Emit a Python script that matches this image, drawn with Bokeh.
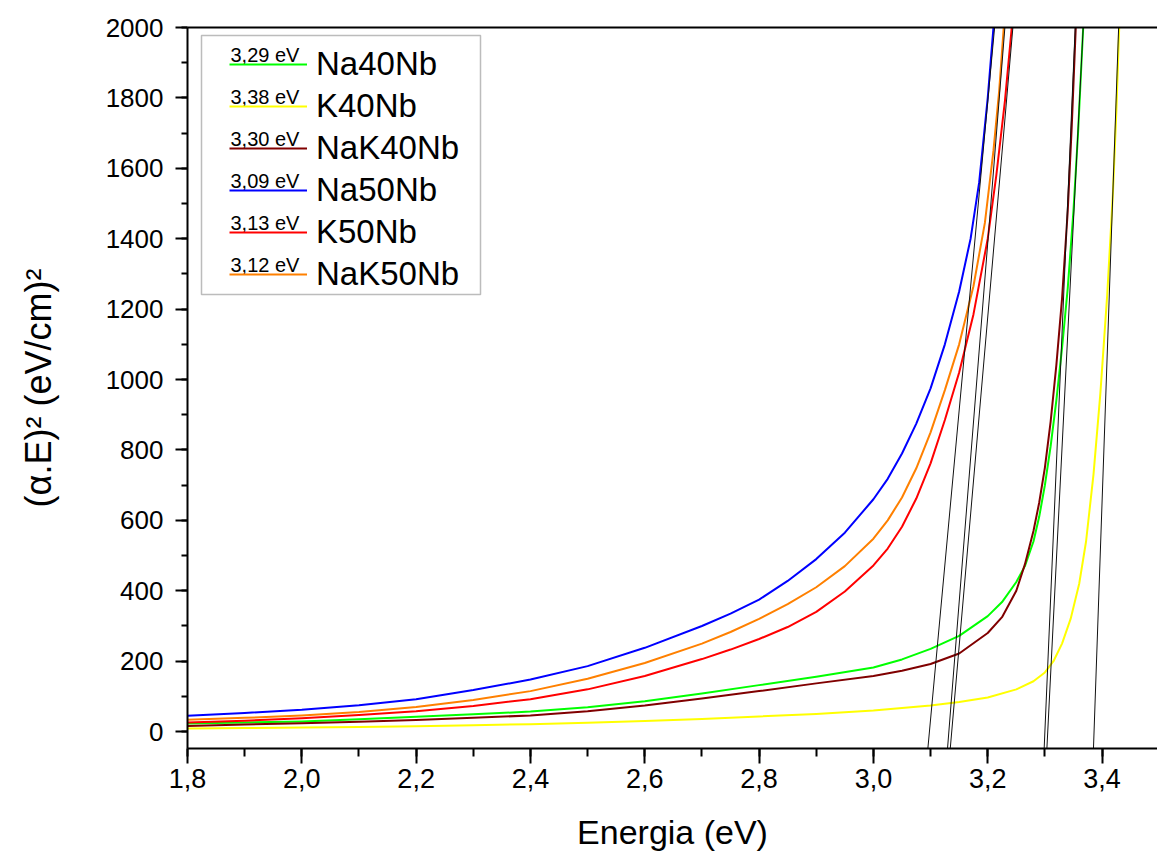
import numpy as np
from bokeh.plotting import figure
from bokeh.models import (Range1d, LinearAxis, FixedTicker, SingleIntervalTicker,
                          CustomJSTickFormatter, Legend, LegendItem, Label, BoxAnnotation)
from bokeh.embed import file_html
from bokeh.resources import INLINE

# ---------------- data ----------------
samples = ["Na40Nb", "K40Nb", "NaK40Nb", "Na50Nb", "K50Nb", "NaK50Nb"]
gap_labels = ["3,29 eV", "3,38 eV", "3,30 eV", "3,09 eV", "3,13 eV", "3,12 eV"]
colors = ["#00FF00", "#FFFF00", "#800000", "#0000FF", "#FF0000", "#FF8000"]

na40_E = [1.80, 1.90, 2.00, 2.10, 2.20, 2.30, 2.40, 2.50, 2.60, 2.70, 2.80, 2.90, 3.00,
          3.05, 3.10, 3.15, 3.20, 3.225, 3.25, 3.265, 3.28, 3.29, 3.30, 3.31, 3.32,
          3.33, 3.34, 3.35, 3.358, 3.367]
na40_y = [23, 26, 29, 35, 42, 49, 57, 69, 86, 108, 132, 156, 182,
          205, 235, 272, 328, 368, 425, 470, 540, 610, 700, 810, 940,
          1090, 1260, 1480, 1700, 2000]

k40_E = [1.80, 1.90, 2.00, 2.10, 2.20, 2.30, 2.40, 2.50, 2.60, 2.70, 2.80, 2.90, 3.00,
         3.10, 3.15, 3.20, 3.25, 3.28, 3.30, 3.315, 3.33, 3.345, 3.36, 3.372, 3.385,
         3.397, 3.409, 3.419, 3.425, 3.43]
k40_y = [9, 10, 12, 13, 15, 18, 21, 25, 30, 36, 43, 50, 60,
         74, 84, 97, 120, 143, 168, 200, 250, 320, 420, 540, 730,
         960, 1240, 1530, 1760, 2000]

nak40_E = [1.80, 1.90, 2.00, 2.10, 2.20, 2.30, 2.40, 2.50, 2.60, 2.70, 2.80, 2.90, 3.00,
           3.05, 3.10, 3.15, 3.20, 3.225, 3.25, 3.265, 3.28, 3.29, 3.30, 3.31, 3.32,
           3.33, 3.34, 3.347, 3.354]
nak40_y = [16, 20, 24, 28, 33, 39, 46, 58, 74, 94, 115, 137, 158,
           173, 192, 222, 280, 325, 400, 475, 570, 650, 750, 880, 1040,
           1230, 1480, 1720, 2000]

na50_E = [1.80, 1.90, 2.00, 2.10, 2.20, 2.30, 2.40, 2.50, 2.60, 2.70, 2.75, 2.80, 2.85,
          2.90, 2.95, 3.00, 3.025, 3.05, 3.075, 3.10, 3.125, 3.15, 3.17, 3.185, 3.20, 3.21]
na50_y = [45, 53, 62, 75, 92, 118, 148, 186, 238, 300, 335, 375, 428,
          490, 565, 660, 718, 790, 875, 975, 1100, 1250, 1400, 1560, 1800, 2000]

k50_E = [1.80, 1.90, 2.00, 2.10, 2.20, 2.30, 2.40, 2.50, 2.60, 2.70, 2.75, 2.80, 2.85,
         2.90, 2.95, 3.00, 3.025, 3.05, 3.075, 3.10, 3.125, 3.15, 3.175, 3.20, 3.215,
         3.23, 3.242]
k50_y = [26, 31, 38, 47, 58, 73, 92, 120, 158, 206, 233, 263, 297,
         340, 398, 472, 520, 582, 662, 762, 885, 1020, 1185, 1400, 1580,
         1790, 2000]

nak50_E = [1.80, 1.90, 2.00, 2.10, 2.20, 2.30, 2.40, 2.50, 2.60, 2.70, 2.75, 2.80, 2.85,
           2.90, 2.95, 3.00, 3.025, 3.05, 3.075, 3.10, 3.125, 3.15, 3.175, 3.195, 3.21,
           3.22, 3.228]
nak50_y = [34, 39, 46, 56, 70, 90, 115, 150, 195, 250, 283, 320, 362,
           410, 470, 548, 600, 665, 748, 850, 970, 1100, 1265, 1445, 1650,
           1820, 2000]

# linear fits (Tauc extrapolation): x-intercept and energy at which the fit reaches 2000
fit_x0 = [3.305, 3.386, 3.300, 3.098, 3.137, 3.132]
fit_xtop = [3.367, 3.429, 3.353, 3.212, 3.244, 3.230]

curves_E = [na40_E, k40_E, nak40_E, na50_E, k50_E, nak50_E]
curves_y = [na40_y, k40_y, nak40_y, na50_y, k50_y, nak50_y]

# ---------------- figure ----------------
FONT = "Liberation Sans"
p = figure(width=1157, height=854,
           x_range=Range1d(1.8, 3.497), y_range=Range1d(-48, 2000),
           output_backend="svg", toolbar_location=None,
           min_border_left=187, min_border_right=0,
           min_border_top=27, min_border_bottom=106)
p.grid.visible = False
p.outline_line_color = None
p.background_fill_color = "white"
p.border_fill_color = "white"

renderers = []
for E, y, c in zip(curves_E, curves_y, colors):
    r = p.line(E, y, line_color=c, line_width=2, line_join="round")
    renderers.append(r)

y_lo, y_hi = -60.0, 2000.0
for x0, xt in zip(fit_x0, fit_xtop):
    slope = (xt - x0) / 2000.0
    xs = [x0 + y_lo * slope, x0 + y_hi * slope]
    p.line(xs, [y_lo, y_hi], line_color="#111111", line_width=1)

# axes
xa = p.xaxis[0]
xa.ticker = SingleIntervalTicker(interval=0.2, num_minor_ticks=2)
xa.formatter = CustomJSTickFormatter(code="return tick.toFixed(1).replace('.', ',');")
xa.axis_label = "Energia (eV)"
ya = p.yaxis[0]
ya.ticker = SingleIntervalTicker(interval=200, num_minor_ticks=2)
ya.axis_label = "(\u03b1.E)\u00b2 (eV/cm)\u00b2"

for ax in (xa, ya):
    ax.axis_label_text_font = FONT
    ax.axis_label_text_font_style = "normal"
    ax.axis_label_text_font_size = "34px"
    ax.axis_label_text_color = "black"
    ax.major_label_text_font = FONT
    ax.major_label_text_font_size = "26px"
    ax.major_label_text_color = "black"
    ax.axis_line_width = 2
    ax.axis_line_color = "black"
    ax.major_tick_line_width = 2
    ax.minor_tick_line_width = 2
    ax.major_tick_line_color = "black"
    ax.minor_tick_line_color = "black"
    ax.major_tick_in = 0
    ax.minor_tick_in = 0

ya.axis_label_text_font_size = "36px"
xa.major_label_text_font_size = "27px"
xa.major_tick_out = 15
xa.minor_tick_out = 8
xa.major_label_standoff = 5
xa.axis_label_standoff = 22
ya.major_tick_out = 12
ya.minor_tick_out = 6
ya.major_label_standoff = 12
ya.axis_label_standoff = 44

top = LinearAxis(ticker=FixedTicker(ticks=[]), axis_line_width=2, axis_line_color="black",
                 major_tick_out=0, minor_tick_out=0, major_tick_in=0, minor_tick_in=0,
                 major_label_text_font_size="0px")
p.add_layout(top, "above")

# legend
row_h = 42
items = [LegendItem(label=s, renderers=[r]) for s, r in zip(samples, renderers)]
leg = Legend(items=items, location=(42, 453), padding=0, margin=0, spacing=0,
             glyph_width=78, glyph_height=row_h, label_height=row_h, label_standoff=9,
             label_text_font=FONT, label_text_font_size="33px", label_text_color="black",
             border_line_color=None, background_fill_alpha=0)
p.add_layout(leg)

box = BoxAnnotation(left=14, right=293, top=713, bottom=454,
                    left_units="screen", right_units="screen",
                    top_units="screen", bottom_units="screen",
                    fill_color=None, fill_alpha=0, line_color="#222222", line_width=1.5)
p.add_layout(box)

first_baseline = 694
for i, g in enumerate(gap_labels):
    p.add_layout(Label(x=43, y=first_baseline - i * row_h, x_units="screen", y_units="screen",
                       text=g, text_font=FONT, text_font_size="20px", text_color="black",
                       text_baseline="alphabetic", text_align="left"))

open("out.html", "w").write(file_html(p, INLINE))
